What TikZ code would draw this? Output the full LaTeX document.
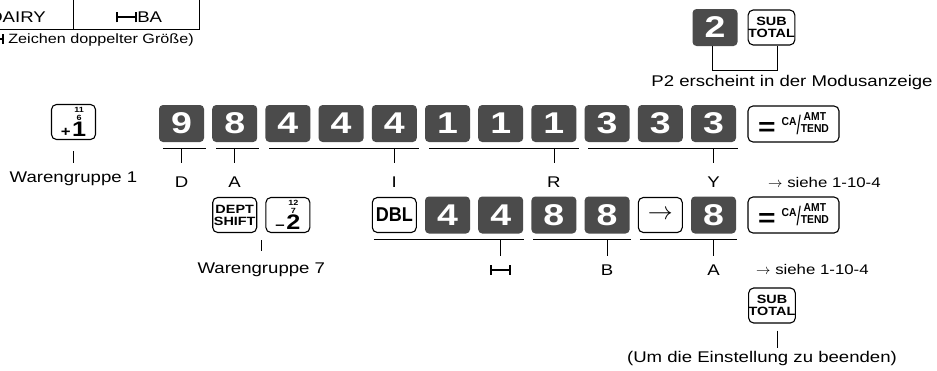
\documentclass[tikz,border=0pt]{standalone}
\usepackage{fontspec}
\usepackage{graphicx}
\setmainfont{Liberation Sans}[FakeStretch=1.2]
\newfontfamily\keyfont{Liberation Sans}[FakeStretch=0.9]
\newfontfamily\digitfont{Liberation Sans}[FakeStretch=1.25]
\usetikzlibrary{positioning, calc}
\definecolor{keygray}{HTML}{4B4B4B}

\newcommand{\dblsym}{\rule{2.2pt}{10pt}\rule[3.9pt]{17pt}{2.2pt}\rule{2.2pt}{10pt}}
\newcommand{\deptnum}[4]{{\fontsize{14}{14}\selectfont\bfseries #1}\hspace{1.5pt}%
  \shortstack{{\fontsize{7.5}{7.5}\selectfont\bfseries #2}\\[-0.5pt]{\fontsize{7.5}{7.5}\selectfont\bfseries #3}\\[-2pt]{\fontsize{21}{21}\selectfont\bfseries #4}}}
\newcommand{\catend}{%
  \raisebox{-3pt}{\fontsize{25}{25}\selectfont\bfseries =}\hspace{6pt}%
  \raisebox{7pt}{\keyfont\bfseries\fontsize{11.5}{11.5}\selectfont CA}%
  \raisebox{-2pt}{\scalebox{0.9}[1.4]{\keyfont\fontsize{19}{19}\selectfont /}}%
  \shortstack{{\keyfont\bfseries\fontsize{11.5}{11.5}\selectfont AMT}\\[1pt]{\keyfont\bfseries\fontsize{11.5}{11.5}\selectfont TEND}}}

\begin{document}
\begin{tikzpicture}[x=1pt, y=-1pt, font=\fontsize{15.5}{18}\selectfont]
  \tikzset{
    darkkey/.style={rectangle, rounded corners=4pt, fill=keygray, text=white, minimum width=45pt, minimum height=37pt, inner sep=0pt, font=\digitfont\fontsize{30}{30}\selectfont\bfseries},
    litekey/.style={rectangle, rounded corners=5pt, draw, line width=1.1pt, fill=white, minimum width=44pt, minimum height=35pt, inner sep=0pt},
    subkey/.style={litekey, font=\bfseries\fontsize{12}{12.5}\selectfont, align=center},
    bracket/.style={line width=0.8pt},
    note/.style={inner sep=0pt}
  }
  \useasboundingbox (0,0) rectangle (937,370);
  \clip (0,0) rectangle (937,370);

  % header table, cut off at the edge
  \draw[line width=0.9pt] (-50,-10) rectangle (73,29);
  \draw[line width=0.9pt] (73,-10) rectangle (199,29);
  \node[note, anchor=east] (dairy) at (46,17) {DAIRY};
  \node[note] (dblba) at (139,17) {\dblsym BA};
  \node[note, anchor=east, font=\fontsize{13.5}{16}\selectfont] (dblnote) at (194,40) {(\dblsym{} Zeichen doppelter Größe)};

  % mode keys top right
  \node[darkkey] (topTwo) at (715,27.5) {2};
  \node[subkey] (topSub) at (771.5,27.5) {SUB\\TOTAL};
  \draw[bracket] ($(topTwo.south)+(-3,0)$) -- ++(0,24) -| ($(topSub.south)+(6,0)$);
  \node[note] (modeNote) at (792,82) {P2 erscheint in der Modusanzeige};

  % first row
  \node[litekey] (deptOne) at (73.5,122) {\deptnum{+}{11}{6}{1}};
  \foreach \d [count=\i from 0] in {9,8,4,4,4,1,1,1,3,3,3}
    \node[darkkey] (r1k\i) at ({181.5+53.2*\i},123.5) {\d};
  \node[litekey, minimum width=91pt, minimum height=36pt] (r1ca) at (793.5,124) {\catend};

  \draw[bracket] ($(deptOne.south)+(0,11)$) -- ++(0,12);
  \node[note] (grpOne) at ($(deptOne.south)+(0,39)$) {Warengruppe 1};
  \foreach \a/\b/\t in {0/0/D,1/1/A,2/4/I,5/7/R,8/10/Y} {
    \draw[bracket] ($(r1k\a.south west)+(4,6)$) -- ($(r1k\b.south east)+(2,6)$);
    \draw[bracket] ($(r1k\b.south)+(0,6)$) -- ++(0,15);
    \node[note] (r1l\b) at ($(r1k\b.south)+(0,40)$) {\t};
  }
  \node[note, anchor=west, font=\fontsize{14}{16}\selectfont] (seeOne) at (768,182) {$\rightarrow$ siehe 1-10-4};

  % second row
  \node[litekey, font=\bfseries\fontsize{12}{12}\selectfont, align=center] (r2k1) at ({181.5+53.2},215) {DEPT\\SHIFT};
  \node[litekey] (r2k2) at ({181.5+53.2*2},215) {\deptnum{--}{12}{7}{2}};
  \node[litekey, font=\keyfont\bfseries\fontsize{20}{20}\selectfont] (r2k4) at ({181.5+53.2*4},215) {DBL};
  \foreach \c/\d in {5/4,6/4,7/8,8/8,10/8}
    \node[darkkey] (r2k\c) at ({181.5+53.2*\c},215) {\d};
  \node[litekey] (r2k9) at ({181.5+53.2*9},215) {\fontsize{25}{25}\selectfont$\rightarrow$};
  \node[litekey, minimum width=91pt, minimum height=36pt] (r2ca) at (793.5,215) {\catend};

  \coordinate (grpSevenTop) at ($(r2k1.south east)!0.5!(r2k2.south west)$);
  \draw[bracket] ($(grpSevenTop)+(0,7)$) -- ++(0,11);
  \node[note] (grpSeven) at ($(grpSevenTop)+(0,37)$) {Warengruppe 7};
  \foreach \a/\b/\t in {4/6/\dblsym,7/8/B,9/10/A} {
    \draw[bracket] ($(r2k\a.west |- r2k\b.south)+(2,6)$) -- ($(r2k\b.south east)+(1,6)$);
    \draw[bracket] ($(r2k\b.south)+(0,6)$) -- ++(0,16);
    \node[note] (r2l\b) at ($(r2k\b.south)+(0,36)$) {\t};
  }
  \node[note, anchor=west, font=\fontsize{14}{16}\selectfont] (seeTwo) at (756,269) {$\rightarrow$ siehe 1-10-4};

  % closing key
  \node[subkey] (botSub) at (772,305.5) {SUB\\TOTAL};
  \draw[bracket] ($(botSub.south)+(5,7)$) -- ++(0,17);
  \node[note] (endNote) at (762,358) {(Um die Einstellung zu beenden)};
\end{tikzpicture}
\end{document}
